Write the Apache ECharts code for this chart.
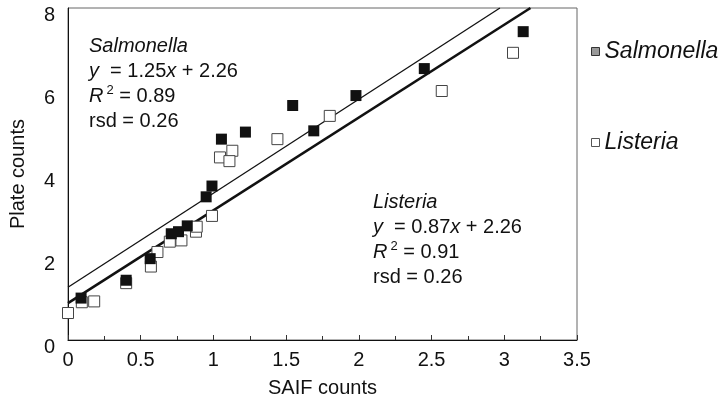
<!DOCTYPE html>
<html>
<head>
<meta charset="utf-8">
<script src="https://cdn.jsdelivr.net/npm/echarts@6/dist/echarts.min.js"></script>
<style>
  html, body { margin: 0; padding: 0; background: #fff; }
  #chart { width: 724px; height: 403px; }
</style>
</head>
<body>
<div id="chart"></div>
<script>
// values
const salmonellaPoints = [
  [0.09, 1.01], [0.40, 1.44], [0.565, 1.96], [0.71, 2.56], [0.76, 2.61],
  [0.82, 2.75], [0.95, 3.45], [0.99, 3.71], [1.055, 4.84], [1.22, 5.01],
  [1.545, 5.65], [1.69, 5.04], [1.98, 5.89], [2.45, 6.54], [3.13, 7.43]
];
const listeriaPoints = [
  [0.00, 0.65], [0.095, 0.91], [0.18, 0.93], [0.40, 1.37], [0.57, 1.77],
  [0.615, 2.12], [0.70, 2.37], [0.78, 2.40], [0.88, 2.61], [0.885, 2.73],
  [0.99, 2.99], [1.045, 4.40], [1.13, 4.56], [1.11, 4.31], [1.44, 4.84],
  [1.80, 5.40], [2.57, 6.00], [3.06, 6.92]
];
// end points of the two fitted lines
const salmonellaFit = [[0, 1.27], [2.97, 8]];
const listeriaFit = [[0, 0.89], [3.18, 8]];

const FONT = "'Liberation Sans', Arial, sans-serif";

const chart = echarts.init(document.getElementById('chart'), null, { renderer: 'canvas' });

const rich = {
  it: { fontFamily: FONT, fontSize: 20, fontStyle: 'italic', lineHeight: 25, color: '#111' },
  n: { fontFamily: FONT, fontSize: 20, lineHeight: 25, color: '#111' },
  sup: { fontFamily: FONT, fontSize: 13, lineHeight: 12, verticalAlign: 'top', color: '#111', padding: [0, 0, 0, 3] }
};

function statsText(name, slope, r2) {
  return '{it|' + name + '}\n' +
    '{it|y}{n|  = ' + slope + '}{it|x}{n| + 2.26}\n' +
    '{it|R}{sup|2}{n| = ' + r2 + '}\n' +
    '{n|rsd = 0.26}';
}

const option = {
  animation: false,
  backgroundColor: '#fff',
  grid: {
    left: 63, top: 8, right: 147, bottom: 61,
    show: true, borderColor: '#666', borderWidth: 1
  },
  legend: {
    orient: 'vertical',
    left: 586,
    top: 35,
    itemGap: 68,
    itemWidth: 8,
    itemHeight: 8,
    textStyle: { fontFamily: FONT, fontSize: 23, fontStyle: 'italic', color: '#111' },
    data: [
      { name: 'Salmonella', icon: 'rect', itemStyle: { color: '#999', borderColor: '#333', borderWidth: 1 } },
      { name: 'Listeria', icon: 'rect', itemStyle: { color: '#fff', borderColor: '#555', borderWidth: 1 } }
    ]
  },
  xAxis: {
    type: 'value',
    min: 0, max: 3.5, interval: 0.5,
    name: 'SAIF counts',
    nameLocation: 'middle',
    nameGap: 38,
    nameTextStyle: { fontFamily: FONT, fontSize: 20, color: '#111' },
    axisLine: { show: true, lineStyle: { color: '#111', width: 1 } },
    axisTick: { show: true, inside: true, length: 5, lineStyle: { color: '#333' } },
    minorTick: { show: true, splitNumber: 2, length: 4, lineStyle: { color: '#333' } },
    splitLine: { show: false },
    axisLabel: { fontFamily: FONT, fontSize: 20, color: '#111', margin: 10 }
  },
  yAxis: {
    type: 'value',
    min: 0, max: 8, interval: 2,
    name: 'Plate counts',
    nameLocation: 'middle',
    nameGap: 40,
    nameTextStyle: { fontFamily: FONT, fontSize: 20, color: '#111' },
    axisLine: { show: true, lineStyle: { color: '#111', width: 1 } },
    axisTick: { show: false },
    minorTick: { show: false },
    splitLine: { show: false },
    axisLabel: { fontFamily: FONT, fontSize: 20, color: '#111', margin: 13, verticalAlign: 'top', lineHeight: 14 }
  },
  series: [
    {
      name: 'Salmonella fit',
      type: 'line',
      data: salmonellaFit,
      symbol: 'none',
      lineStyle: { color: '#111', width: 1.3 },
      z: 1
    },
    {
      name: 'Listeria fit',
      type: 'line',
      data: listeriaFit,
      symbol: 'none',
      lineStyle: { color: '#111', width: 2.6 },
      z: 1
    },
    {
      name: 'Listeria',
      type: 'scatter',
      data: listeriaPoints,
      symbol: 'rect',
      symbolSize: 11,
      itemStyle: { color: '#fff', borderColor: '#444', borderWidth: 1, opacity: 1 },
      z: 2
    },
    {
      name: 'Salmonella',
      type: 'scatter',
      data: salmonellaPoints,
      symbol: 'rect',
      symbolSize: 11,
      itemStyle: { color: '#111', opacity: 1 },
      z: 3
    }
  ],
  graphic: [
    {
      type: 'text', left: 89, top: 34,
      style: { text: statsText('Salmonella', '1.25', '0.89'), rich: rich, fontFamily: FONT, fontSize: 20, lineHeight: 25, fill: '#111' }
    },
    {
      type: 'text', left: 373, top: 190,
      style: { text: statsText('Listeria', '0.87', '0.91'), rich: rich, fontFamily: FONT, fontSize: 20, lineHeight: 25, fill: '#111' }
    }
  ]
};

chart.setOption(option);
</script>
</body>
</html>
